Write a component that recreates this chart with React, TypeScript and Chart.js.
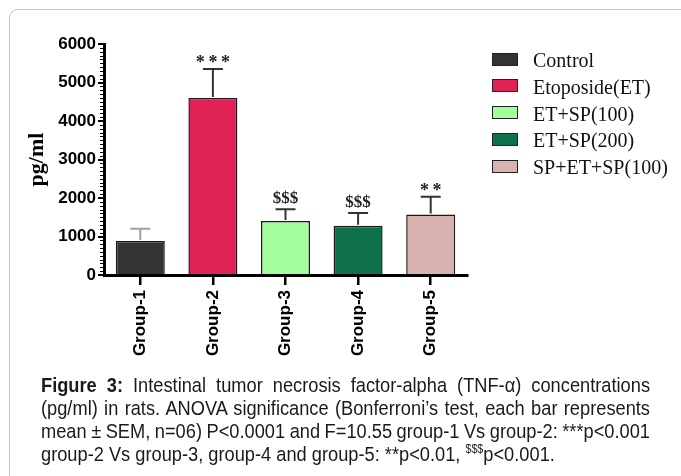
import React, { useEffect, useRef } from 'react';
import { Chart, registerables } from 'chart.js';

Chart.register(...registerables);

const groups = ['Group-1', 'Group-2', 'Group-3', 'Group-4', 'Group-5'];
const seriesNames = ['Control', 'Etoposide(ET)', 'ET+SP(100)', 'ET+SP(200)', 'SP+ET+SP(100)'];
const means = [880, 4600, 1400, 1280, 1570];
const sems = [320, 750, 310, 330, 460];
const marks = ['', '***', '$$$', '$$$', '**'];
const barColors = ['#333333', '#E02257', '#A3FF9C', '#0E714A', '#D9B1AF'];
const errColors = ['#a0a0a0', '#333333', '#333333', '#333333', '#333333'];
const yMin = 0;
const yMax = 6000;
const yStep = 1000;
const yMinorStep = 100;

const captionLines = [
  "Intestinal tumor necrosis factor-alpha (TNF-\u03b1) concentrations",
  "(pg/ml) in rats. ANOVA significance (Bonferroni\u2019s test, each bar represents",
  "mean \u00b1 SEM, n=06) P<0.0001 and F=10.55  group-1 Vs group-2: ***p<0.001",
];

const overlay = {
  id: 'overlay',
  afterDatasetsDraw(chart: any) {
    const ctx = chart.ctx;
    const y = chart.scales.y;
    const area = chart.chartArea;
    const meta = chart.getDatasetMeta(0);
    meta.data.forEach((bar: any, i: number) => {
      const x = bar.x;
      const top = y.getPixelForValue(means[i]);
      const et = y.getPixelForValue(means[i] + sems[i]);
      ctx.save();
      ctx.strokeStyle = errColors[i];
      ctx.lineWidth = 2;
      ctx.beginPath();
      ctx.moveTo(x, top - 1);
      ctx.lineTo(x, et);
      ctx.moveTo(x - 10, et);
      ctx.lineTo(x + 10, et);
      ctx.stroke();
      if (marks[i]) {
        const isDollar = marks[i].includes('$');
        ctx.fillStyle = '#222';
        ctx.textAlign = 'center';
        ctx.textBaseline = 'alphabetic';
        ctx.font = (isDollar ? 'bold 17px ' : 'bold 18px ') + '"Liberation Serif", "Times New Roman", serif';
        const txt = isDollar ? marks[i] : marks[i].split('').join('\u2009');
        ctx.fillText(txt, x, et - (isDollar ? 6 : 1));
      }
      ctx.restore();
    });
    // minor ticks on y axis
    ctx.save();
    ctx.strokeStyle = '#000';
    ctx.lineWidth = 1.2;
    ctx.beginPath();
    for (let v = yMin; v <= yMax; v += yMinorStep) {
      if (v % yStep === 0) continue;
      const py = Math.round(y.getPixelForValue(v)) + 0.5;
      ctx.moveTo(area.left - 4, py);
      ctx.lineTo(area.left, py);
    }
    ctx.stroke();
    ctx.restore();
  },
};

export default function App() {
  const ref = useRef<HTMLCanvasElement>(null);
  useEffect(() => {
    if (!ref.current) return;
    const chart = new Chart(ref.current, {
      type: 'bar',
      data: {
        labels: groups,
        datasets: [
          {
            label: 'TNF-alpha',
            data: means,
            backgroundColor: barColors,
            borderColor: '#1a1a1a',
            borderWidth: 1.5,
            categoryPercentage: 1,
            barPercentage: 0.675,
          },
        ],
      },
      options: {
        animation: false,
        responsive: false,
        devicePixelRatio: 1,
        layout: { padding: { left: 24, top: 44, right: 214, bottom: 15 } },
        plugins: { legend: { display: false }, tooltip: { enabled: false } },
        scales: {
          x: {
            afterFit: (s: any) => { s.height = 90; },
            grid: {
              display: true,
              drawOnChartArea: false,
              offset: false,
              drawTicks: true,
              tickLength: 10,
              lineWidth: 2.5,
              color: '#000',
            },
            border: { display: true, color: '#000', width: 3 },
            ticks: {
              autoSkip: false,
              minRotation: 90,
              maxRotation: 90,
              padding: 5,
              color: '#000',
              font: { family: '"Liberation Sans", Arial, sans-serif', weight: 'bold', size: 17 },
            },
          },
          y: {
            min: yMin,
            max: yMax,
            afterFit: (s: any) => { s.width = 80; },
            grid: {
              display: true,
              drawOnChartArea: false,
              drawTicks: true,
              tickLength: 6,
              lineWidth: 2,
              color: '#000',
            },
            border: { display: true, color: '#000', width: 3 },
            ticks: {
              stepSize: yStep,
              padding: 2,
              color: '#000',
              callback: (v: any) => String(v),
              font: { family: '"Liberation Sans", Arial, sans-serif', weight: 'bold', size: 17 },
            },
            title: {
              display: true,
              text: 'pg/ml',
              color: '#000',
              padding: 0,
              font: { family: '"Liberation Serif", "Times New Roman", serif', weight: 'bold', size: 22 },
            },
          },
        },
      },
      plugins: [overlay],
    });
    return () => chart.destroy();
  }, []);

  const legendTop = 52;
  const legendStep = 26.75;
  const squeeze = 0.89;

  return (
    <div style={{ position: 'absolute', left: 0, top: 0, width: 681, height: 476, overflow: 'hidden', background: '#fff' }}>
      <div
        style={{
          position: 'absolute',
          left: 9,
          top: 9,
          width: 720,
          height: 520,
          border: '1.5px solid #c4c4c4',
          borderTopLeftRadius: 9,
          boxSizing: 'border-box',
        }}
      />
      <canvas ref={ref} width={681} height={380} style={{ position: 'absolute', left: 0, top: 0, width: 681, height: 380 }} />
      {seriesNames.map((name, i) => (
        <div key={name} style={{ position: 'absolute', left: 492, top: legendTop + i * legendStep, height: 14, display: 'flex', alignItems: 'center' }}>
          <div style={{ width: 26, height: 13, background: barColors[i], border: '1px solid #222', boxSizing: 'border-box', flex: 'none' }} />
          <span style={{ marginLeft: 15, font: '20px "Liberation Serif", "Times New Roman", serif', color: '#111', whiteSpace: 'nowrap', lineHeight: '14px', position: 'relative', top: 1 }}>
            {name}
          </span>
        </div>
      ))}
      <div
        style={{
          position: 'absolute',
          left: 41,
          top: 373,
          width: 609 / squeeze,
          transform: `scaleX(${squeeze})`,
          transformOrigin: '0 0',
          fontFamily: '"Liberation Sans", Arial, sans-serif',
          fontSize: 20.5,
          lineHeight: '23px',
          color: '#1a1a1a',
        }}
      >
        {captionLines.map((l, i) => (
          <div key={i} style={{ textAlign: 'justify', textAlignLast: 'justify' as any, wordSpacing: -3, whiteSpace: 'nowrap' }}>
            {i === 0 ? <b>Figure 3: </b> : null}
            {l}
          </div>
        ))}
        <div style={{ whiteSpace: 'nowrap' }}>
          group-2 Vs group-3, group-4 and group-5: **p&lt;0.01, <sup style={{ fontSize: 12, lineHeight: 0 }}>$$$</sup>p&lt;0.001.
        </div>
      </div>
    </div>
  );
}
